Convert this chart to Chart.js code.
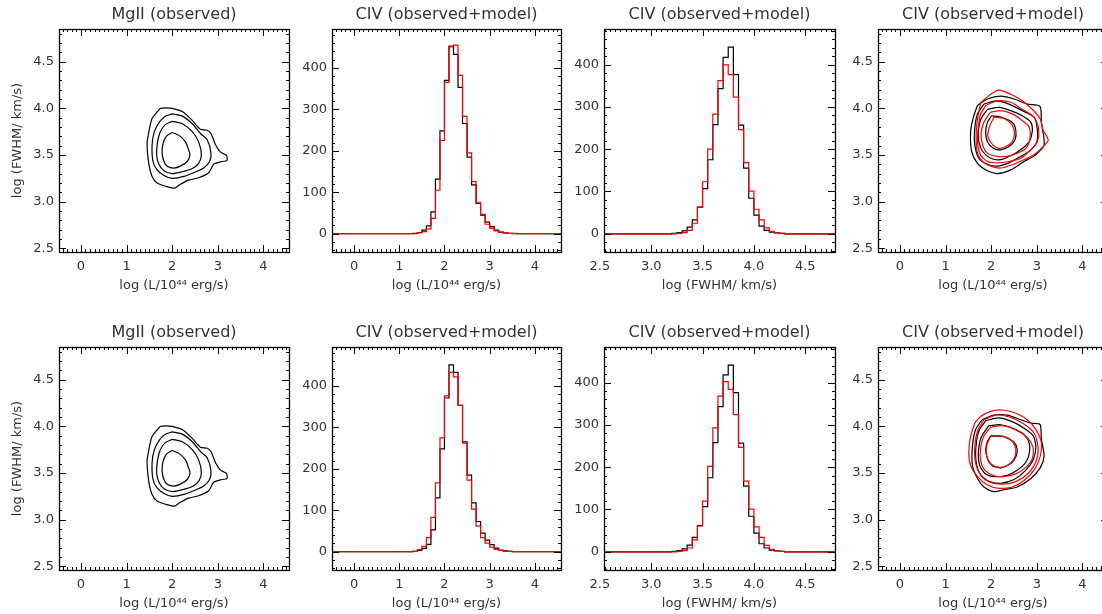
<!DOCTYPE html>
<html>
<head>
<meta charset="utf-8">
<script src="https://cdn.jsdelivr.net/npm/chart.js@4.4.1/dist/chart.umd.min.js"></script>
<style>
  html, body { margin: 0; padding: 0; background: #fff; }
  body { width: 1102px; height: 614px; position: relative; overflow: hidden; }
  canvas { position: absolute; }
</style>
</head>
<body>
<script>
// tick values
const lumTicks = [0, 1, 2, 3, 4];
const fwhmTicks = [2.5, 3.0, 3.5, 4.0, 4.5];
const countTicks = [0, 100, 200, 300, 400];

// histogram bin centres (zero bins at both ends run the line out to the frame)
const lumBins = [-0.55, 1.15, 1.25, 1.35, 1.45, 1.55, 1.65, 1.75, 1.85, 1.95, 2.05, 2.15, 2.25, 2.35,
  2.45, 2.55, 2.65, 2.75, 2.85, 2.95, 3.05, 3.15, 3.25, 3.35, 3.45, 3.55, 3.65, 4.65];
const fwhmBins = [2.45, 3.125, 3.175, 3.225, 3.275, 3.325, 3.375, 3.425, 3.475, 3.525, 3.575, 3.625,
  3.675, 3.725, 3.775, 3.825, 3.875, 3.925, 3.975, 4.025, 4.075, 4.125, 4.175, 4.225, 4.275, 4.325, 4.375, 4.9];

// top row histograms
const lumObsTop = [0, 0, 0, 1, 3, 9, 19, 53, 132, 248, 370, 453, 433, 353, 266, 185, 118, 73, 45, 28, 17, 9, 4, 2, 1, 0, 0, 0];
const lumModTop = [0, 0, 0, 0, 2, 5, 12, 37, 105, 225, 365, 451, 455, 382, 283, 195, 126, 76, 47, 23, 13, 7, 4, 2, 1, 1, 0, 0];
const fwhmObsTop = [0, 0, 0, 1, 3, 7, 16, 33, 63, 107, 175, 258, 343, 417, 441, 376, 257, 155, 84, 44, 18, 8, 4, 2, 1, 0, 0, 0];
const fwhmModTop = [0, 0, 0, 0, 1, 3, 8, 25, 63, 123, 200, 283, 362, 399, 376, 323, 246, 168, 101, 58, 33, 14, 6, 3, 1, 0, 0, 0];

// bottom row histograms
const lumObsBot = [0, 0, 0, 1, 3, 8, 18, 53, 130, 248, 371, 451, 433, 353, 265, 185, 118, 73, 45, 28, 17, 9, 4, 2, 1, 0, 0, 0];
const lumModBot = [0, 0, 0, 1, 5, 13, 34, 83, 166, 275, 376, 433, 422, 353, 262, 173, 103, 62, 34, 21, 11, 6, 3, 1, 1, 0, 0, 0];
const fwhmObsBot = [0, 0, 0, 1, 3, 7, 16, 34, 62, 107, 175, 258, 343, 418, 441, 376, 257, 155, 84, 44, 19, 9, 4, 2, 1, 0, 0, 0];
const fwhmModBot = [0, 0, 0, 0, 1, 3, 9, 28, 61, 120, 202, 293, 368, 402, 384, 324, 247, 167, 101, 59, 34, 15, 6, 3, 1, 0, 0, 0];

// MgII contours (log L, log FWHM), outer to inner
const mgLevel1 = [[1.74, 4.00], [1.88, 4.005], [2.00, 4.00], [2.22, 3.965], [2.44, 3.87], [2.62, 3.775], [2.77, 3.765],
  [2.85, 3.73], [2.95, 3.61], [3.06, 3.53], [3.19, 3.495], [3.20, 3.44], [3.09, 3.43], [2.91, 3.40], [2.80, 3.31],
  [2.58, 3.256], [2.36, 3.23], [2.18, 3.186], [2.05, 3.144], [1.89, 3.16], [1.67, 3.20], [1.56, 3.27], [1.49, 3.40],
  [1.45, 3.625], [1.49, 3.75], [1.56, 3.89]];
const mgLevel2 = [[2.00, 3.94], [2.22, 3.916], [2.44, 3.835], [2.62, 3.73], [2.77, 3.66], [2.85, 3.52], [2.82, 3.43],
  [2.69, 3.36], [2.47, 3.31], [2.26, 3.27], [2.00, 3.25], [1.82, 3.28], [1.67, 3.34], [1.58, 3.43], [1.56, 3.61],
  [1.61, 3.75], [1.73, 3.86], [1.85, 3.916]];
const mgLevel3 = [[2.00, 3.86], [2.22, 3.835], [2.44, 3.75], [2.58, 3.64], [2.64, 3.50], [2.58, 3.41], [2.44, 3.355],
  [2.22, 3.32], [2.00, 3.30], [1.82, 3.33], [1.71, 3.40], [1.66, 3.50], [1.68, 3.64], [1.74, 3.75], [1.85, 3.825]];
const mgLevel4 = [[2.00, 3.74], [2.15, 3.71], [2.29, 3.64], [2.36, 3.555], [2.39, 3.50], [2.33, 3.43], [2.18, 3.38],
  [2.04, 3.36], [1.89, 3.38], [1.82, 3.43], [1.78, 3.52], [1.80, 3.625], [1.88, 3.705]];

// CIV contours, top row: observed (black) and model (red), inner to outer
const civObsTop1 = [[2.01, 3.92], [2.21, 3.905], [2.46, 3.85], [2.54, 3.765], [2.52, 3.66], [2.39, 3.59], [2.21, 3.555],
  [2.06, 3.57], [1.92, 3.64], [1.88, 3.75], [1.92, 3.85]];
const civObsTop2 = [[1.92, 3.99], [2.17, 4.01], [2.43, 3.975], [2.68, 3.92], [2.87, 3.85], [2.90, 3.75], [2.83, 3.64],
  [2.68, 3.57], [2.46, 3.50], [2.21, 3.45], [1.99, 3.465], [1.81, 3.54], [1.73, 3.64], [1.72, 3.765], [1.78, 3.89]];
const civObsTop3 = [[1.84, 4.045], [2.10, 4.08], [2.39, 4.045], [2.68, 3.975], [2.94, 3.905], [3.01, 3.78], [3.00, 3.64],
  [2.87, 3.555], [2.65, 3.485], [2.39, 3.415], [2.13, 3.38], [1.92, 3.40], [1.73, 3.465], [1.64, 3.61], [1.64, 3.78], [1.70, 3.94]];
const civObsTop4 = [[1.70, 4.03], [1.92, 4.10], [2.21, 4.13], [2.50, 4.10], [2.79, 4.045], [3.07, 4.02], [3.10, 3.85],
  [3.16, 3.61], [2.97, 3.50], [2.72, 3.43], [2.43, 3.34], [2.13, 3.30], [1.92, 3.33], [1.70, 3.41], [1.57, 3.54],
  [1.55, 3.75], [1.61, 3.905]];
const civModTop1 = [[2.06, 3.905], [2.28, 3.89], [2.46, 3.82], [2.51, 3.73], [2.46, 3.64], [2.32, 3.59], [2.17, 3.57],
  [2.03, 3.61], [1.93, 3.695], [1.96, 3.80]];
const civModTop2 = [[1.99, 3.96], [2.21, 3.975], [2.46, 3.94], [2.68, 3.87], [2.83, 3.80], [2.85, 3.68], [2.76, 3.57],
  [2.57, 3.52], [2.35, 3.485], [2.13, 3.485], [1.92, 3.52], [1.81, 3.61], [1.78, 3.73], [1.84, 3.85]];
const civModTop3 = [[1.88, 4.03], [2.13, 4.08], [2.43, 4.065], [2.68, 3.99], [2.94, 3.905], [3.04, 3.78], [3.01, 3.64],
  [2.87, 3.555], [2.65, 3.465], [2.39, 3.43], [2.13, 3.415], [1.92, 3.43], [1.77, 3.50], [1.70, 3.64], [1.72, 3.80], [1.77, 3.94]];
const civModTop4 = [[1.77, 4.06], [1.99, 4.15], [2.17, 4.195], [2.43, 4.15], [2.68, 4.08], [2.90, 3.99], [3.07, 3.89],
  [3.14, 3.765], [3.25, 3.66], [3.14, 3.59], [2.93, 3.50], [2.72, 3.45], [2.46, 3.395], [2.21, 3.36], [1.99, 3.38],
  [1.81, 3.43], [1.70, 3.52], [1.67, 3.68], [1.69, 3.85]];

// CIV contours, bottom row
const civObsBot1 = [[1.99, 3.895], [2.28, 3.89], [2.50, 3.83], [2.57, 3.755], [2.54, 3.67], [2.43, 3.60], [2.21, 3.555],
  [2.02, 3.58], [1.92, 3.65], [1.88, 3.755], [1.92, 3.84]];
const civObsBot2 = [[1.95, 4.007], [2.21, 4.017], [2.46, 3.98], [2.72, 3.91], [2.83, 3.825], [2.84, 3.72], [2.76, 3.615],
  [2.57, 3.53], [2.35, 3.475], [2.10, 3.46], [1.88, 3.49], [1.75, 3.58], [1.72, 3.72], [1.78, 3.88]];
const civObsBot3 = [[1.88, 4.06], [2.17, 4.09], [2.46, 4.05], [2.72, 3.98], [2.92, 3.90], [2.98, 3.78], [2.92, 3.64],
  [2.76, 3.53], [2.50, 3.43], [2.21, 3.39], [1.95, 3.41], [1.77, 3.48], [1.67, 3.62], [1.67, 3.80], [1.74, 3.96]];
const civObsBot4 = [[1.80, 4.07], [2.06, 4.12], [2.35, 4.12], [2.65, 4.07], [2.87, 4.035], [3.07, 4.02], [3.10, 3.86],
  [3.16, 3.685], [3.08, 3.56], [2.87, 3.44], [2.57, 3.35], [2.28, 3.32], [2.06, 3.30], [1.84, 3.35], [1.70, 3.44],
  [1.59, 3.58], [1.59, 3.79], [1.66, 3.965]];
const civModBot1 = [[1.99, 3.90], [2.24, 3.895], [2.46, 3.84], [2.54, 3.755], [2.50, 3.65], [2.35, 3.58], [2.17, 3.56],
  [1.99, 3.60], [1.90, 3.685], [1.90, 3.79]];
const civModBot2 = [[1.99, 3.99], [2.24, 4.007], [2.54, 3.965], [2.79, 3.88], [2.92, 3.77], [2.90, 3.65], [2.76, 3.56],
  [2.54, 3.49], [2.28, 3.46], [2.06, 3.47], [1.86, 3.53], [1.77, 3.63], [1.77, 3.77], [1.84, 3.895]];
const civModBot3 = [[1.84, 4.07], [2.10, 4.12], [2.40, 4.10], [2.70, 4.03], [2.95, 3.92], [3.03, 3.76], [2.98, 3.62],
  [2.82, 3.50], [2.55, 3.41], [2.25, 3.38], [1.98, 3.40], [1.78, 3.47], [1.66, 3.60], [1.64, 3.78], [1.70, 3.95]];
const civModBot4 = [[1.64, 4.035], [1.77, 4.105], [1.99, 4.16], [2.24, 4.175], [2.54, 4.14], [2.79, 4.07], [2.98, 3.965],
  [3.10, 3.825], [3.07, 3.67], [2.94, 3.53], [2.72, 3.42], [2.46, 3.35], [2.17, 3.335], [1.92, 3.37], [1.70, 3.46],
  [1.55, 3.58], [1.51, 3.72], [1.55, 3.895]];

const LUM_TITLE = 'log (L/10\u2074\u2074 erg/s)';
const FWHM_TITLE = 'log (FWHM/ km/s)';
const BLACK = '#000000';
const RED = '#ff0000';

// layout
const Y_BOX = 59, TITLE_H = 29, PLOT_H = 223, X_BOX = 43;

Chart.defaults.font.family = '"DejaVu Sans", sans-serif';
Chart.defaults.color = '#333';
Chart.defaults.animation = false;

const frameTicks = {
  id: 'frameTicks',
  afterDatasetsDraw(chart, args, opts) {
    const { ctx, chartArea: a } = chart;
    const xs = chart.scales.x, ys = chart.scales.y;
    ctx.save();
    ctx.strokeStyle = '#000';
    ctx.lineWidth = 1;
    ctx.beginPath();
    const mark = (scale, v, len) => {
      if (v < scale.min - 1e-9 || v > scale.max + 1e-9) return;
      const p = Math.round(scale.getPixelForValue(v)) + 0.5;
      if (scale.isHorizontal()) {
        ctx.moveTo(p, a.bottom); ctx.lineTo(p, a.bottom - len);
        ctx.moveTo(p, a.top); ctx.lineTo(p, a.top + len);
      } else {
        ctx.moveTo(a.left, p); ctx.lineTo(a.left + len, p);
        ctx.moveTo(a.right, p); ctx.lineTo(a.right - len, p);
      }
    };
    const minors = (scale, step) => {
      for (let k = Math.ceil(scale.min / step - 1e-6); k * step <= scale.max + 1e-9; k++) mark(scale, k * step, 3);
    };
    minors(xs, opts.xMinor);
    minors(ys, opts.yMinor);
    xs.ticks.forEach(t => mark(xs, t.value, 7));
    ys.ticks.forEach(t => mark(ys, t.value, 7));
    ctx.stroke();
    ctx.lineWidth = 1.3;
    ctx.strokeRect(Math.round(a.left) + 0.5, Math.round(a.top) + 0.5,
      Math.round(a.right - a.left), Math.round(a.bottom - a.top));
    ctx.restore();
  }
};

function loop(pts, color) {
  return {
    data: pts.concat([pts[0]]).map(([x, y]) => ({ x, y })),
    showLine: true, borderColor: color, borderWidth: 1.2, pointRadius: 0, tension: 0.25
  };
}

function hist(bins, counts, color) {
  return {
    data: bins.map((x, i) => ({ x, y: counts[i] })),
    showLine: true, stepped: 'middle', borderColor: color, borderWidth: 1.2, pointRadius: 0
  };
}

function axis(range, ticks, fmt, title, isY) {
  return {
    type: 'linear', min: range[0], max: range[1],
    afterFit: s => { if (isY) s.width = Y_BOX; else s.height = X_BOX; },
    afterBuildTicks: s => { s.ticks = ticks.map(v => ({ value: v })); },
    grid: { display: false, drawTicks: false },
    border: { display: false },
    ticks: { padding: isY ? 5 : 7, autoSkip: false, maxRotation: 0, font: { size: 13 }, color: '#333', callback: fmt },
    title: {
      display: !!title, text: title, color: '#333', font: { size: 13 },
      padding: isY ? { top: 10, bottom: 0 } : { top: 0, bottom: 2 }
    }
  };
}

const intFmt = v => String(v);
const oneDec = v => v.toFixed(1);
const LUM_RANGE = [-0.48, 4.56];
const FWHM_RANGE = [2.46, 4.85];

function panel(p) {
  const canvas = document.createElement('canvas');
  const w = Y_BOX + p.plotW + Y_BOX, h = TITLE_H + PLOT_H + X_BOX;
  canvas.width = w; canvas.height = h;
  canvas.style.width = w + 'px'; canvas.style.height = h + 'px';
  canvas.style.left = (p.plotLeft - Y_BOX) + 'px';
  canvas.style.top = (p.plotTop - TITLE_H) + 'px';
  document.body.appendChild(canvas);
  new Chart(canvas, {
    type: 'scatter',
    data: { datasets: p.datasets },
    options: {
      responsive: false,
      animation: false,
      layout: { padding: { left: 0, top: 0, right: Y_BOX, bottom: 0 } },
      scales: { x: p.x, y: p.y },
      plugins: {
        legend: { display: false },
        tooltip: { enabled: false },
        title: {
          display: true, fullSize: false, text: p.title, color: '#333',
          font: { size: 16, weight: 'normal' }, padding: { top: 5, bottom: 4.8 }
        },
        frameTicks: p.minor
      }
    },
    plugins: [frameTicks]
  });
}

const rows = [
  { top: 29, lumObs: lumObsTop, lumMod: lumModTop, fwhmObs: fwhmObsTop, fwhmMod: fwhmModTop,
    obs: [civObsTop1, civObsTop2, civObsTop3, civObsTop4], mod: [civModTop1, civModTop2, civModTop3, civModTop4] },
  { top: 347, lumObs: lumObsBot, lumMod: lumModBot, fwhmObs: fwhmObsBot, fwhmMod: fwhmModBot,
    obs: [civObsBot1, civObsBot2, civObsBot3, civObsBot4], mod: [civModBot1, civModBot2, civModBot3, civModBot4] }
];

rows.forEach(r => {
  panel({
    plotLeft: 59, plotTop: r.top, plotW: 230, title: 'MgII (observed)',
    datasets: [mgLevel1, mgLevel2, mgLevel3, mgLevel4].map(c => loop(c, BLACK)),
    x: axis(LUM_RANGE, lumTicks, intFmt, LUM_TITLE, false),
    y: axis(FWHM_RANGE, fwhmTicks, oneDec, FWHM_TITLE, true),
    minor: { xMinor: 0.1, yMinor: 0.1 }
  });
  panel({
    plotLeft: 332, plotTop: r.top, plotW: 229, title: 'CIV (observed+model)',
    datasets: [hist(lumBins, r.lumMod, RED), hist(lumBins, r.lumObs, BLACK)],
    x: axis([-0.49, 4.58], lumTicks, intFmt, LUM_TITLE, false),
    y: axis([-44, 494], countTicks, intFmt, '', true),
    minor: { xMinor: 0.1, yMinor: 20 }
  });
  panel({
    plotLeft: 604, plotTop: r.top, plotW: 231, title: 'CIV (observed+model)',
    datasets: [hist(fwhmBins, r.fwhmMod, RED), hist(fwhmBins, r.fwhmObs, BLACK)],
    x: axis([2.54, 4.79], fwhmTicks, oneDec, FWHM_TITLE, false),
    y: axis([-43, 484], countTicks, intFmt, '', true),
    minor: { xMinor: 0.05, yMinor: 20 }
  });
  panel({
    plotLeft: 878, plotTop: r.top, plotW: 230, title: 'CIV (observed+model)',
    datasets: r.mod.map(c => loop(c, RED)).concat(r.obs.map(c => loop(c, BLACK))),
    x: axis(LUM_RANGE, lumTicks, intFmt, LUM_TITLE, false),
    y: axis(FWHM_RANGE, fwhmTicks, oneDec, '', true),
    minor: { xMinor: 0.1, yMinor: 0.1 }
  });
});
</script>
</body>
</html>
